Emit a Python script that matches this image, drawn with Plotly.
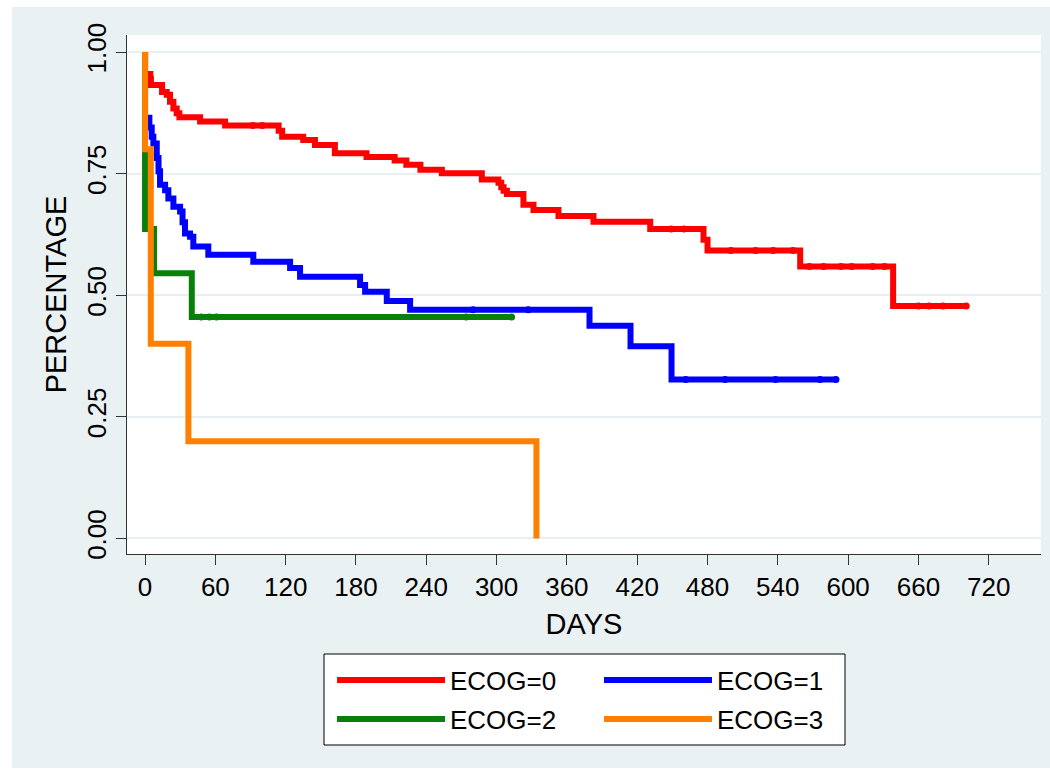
import bisect
import plotly.graph_objects as go

# ---------------- data ----------------
days_ecog0 = [0, 0, 4.5, 5, 14.5, 18.5, 21.3, 24.2, 27, 29.3, 47, 68.3, 114, 117,
              135, 145, 162, 189, 213, 223, 235, 253.3, 287.4, 301.6, 304, 306, 308.8,
              322.9, 331.5, 352.8, 382.7, 431.1, 476.6, 480, 559.1, 638.4, 700.8]
surv_ecog0 = [1.0, 0.955, 0.945, 0.932, 0.918, 0.912, 0.898, 0.884, 0.874, 0.866, 0.857,
              0.849, 0.838, 0.826, 0.819, 0.809, 0.792, 0.784, 0.777, 0.768, 0.758, 0.751,
              0.738, 0.731, 0.722, 0.715, 0.708, 0.686, 0.675, 0.663, 0.651, 0.636, 0.614,
              0.592, 0.559, 0.478, 0.478]
cens_ecog0 = [92, 100, 449, 460, 500, 521, 536, 553, 567, 579, 594, 603, 621, 631,
              660, 669, 681, 700.8]

days_ecog1 = [0, 0, 3.7, 5.7, 7.1, 10, 11.5, 12.8, 17.1, 19.9, 24.2, 29.9, 32, 34.1,
              38.4, 41.2, 54, 92.4, 123.8, 132.3, 183.5, 187.8, 206.3, 226.2, 379.3,
              414.3, 449.3, 589.6]
surv_ecog1 = [1.0, 0.865, 0.845, 0.826, 0.812, 0.782, 0.755, 0.727, 0.716, 0.699, 0.682,
              0.672, 0.65, 0.627, 0.62, 0.60, 0.583, 0.569, 0.556, 0.538, 0.521, 0.507,
              0.488, 0.47, 0.437, 0.395, 0.327, 0.327]
cens_ecog1 = [280, 327, 461.5, 495, 538, 576, 589.6]

days_ecog2 = [0, 0, 7.7, 39.9, 312.8]
surv_ecog2 = [1.0, 0.636, 0.545, 0.455, 0.455]
cens_ecog2 = [48, 55, 61, 274, 312.8]

days_ecog3 = [0, 0, 4.9, 37, 334]
surv_ecog3 = [1.0, 0.8, 0.4, 0.2, 0.0]
cens_ecog3 = []

group_names = ["ECOG=0", "ECOG=1", "ECOG=2", "ECOG=3"]
group_colors = ["#FF0000", "#0000FF", "#0A800A", "#FF8000"]

x_ticks = list(range(0, 721, 60))
y_ticks = [0, 0.25, 0.5, 0.75, 1.0]
y_tick_labels = ["0.00", "0.25", "0.50", "0.75", "1.00"]


def surv_at(days, surv, t):
    i = bisect.bisect_right(days, t) - 1
    return surv[max(i, 0)]


FONT = "Liberation Sans, Arial, sans-serif"

W, H = 1050, 771
ML, MR, MT, MB = 127, 9, 35, 217
PW, PH = W - ML - MR, H - MT - MB


def px_x(px):
    return (px - ML) / PW


def px_y(py):
    return (H - MB - py) / PH


fig = go.Figure()

series = [
    (days_ecog0, surv_ecog0, cens_ecog0),
    (days_ecog1, surv_ecog1, cens_ecog1),
    (days_ecog2, surv_ecog2, cens_ecog2),
    (days_ecog3, surv_ecog3, cens_ecog3),
]
legend_ids = ["legend", "legend2", "legend3", "legend4"]

for (d, s, c), name, col, lg in zip(series, group_names, group_colors, legend_ids):
    fig.add_trace(go.Scatter(
        x=d, y=s, mode="lines", name=name, legend=lg,
        line=dict(color=col, width=6, shape="hv"),
        hoverinfo="skip",
    ))
    if c:
        fig.add_trace(go.Scatter(
            x=c, y=[surv_at(d, s, t) for t in c], mode="markers",
            marker=dict(color=col, size=7), showlegend=False, hoverinfo="skip",
        ))

# legend positions (px) : legend left x, row centre y
leg_pos = [(332, 680), (599, 680), (332, 719), (599, 719)]
legend_layout = {}
for lg, (lx, ly) in zip(legend_ids, leg_pos):
    legend_layout[lg] = dict(
        x=px_x(lx), y=px_y(ly), xanchor="left", yanchor="middle",
        orientation="h", itemwidth=108, bgcolor="rgba(0,0,0,0)", borderwidth=0,
        font=dict(family=FONT, size=26, color="black"),
    )

shapes = [
    # white strips around the grey panel
    dict(type="rect", xref="paper", yref="paper", x0=px_x(0), x1=px_x(W), y0=px_y(7), y1=px_y(0),
         fillcolor="white", line=dict(width=0), layer="below"),
    dict(type="rect", xref="paper", yref="paper", x0=px_x(0), x1=px_x(12), y0=px_y(H), y1=px_y(0),
         fillcolor="white", line=dict(width=0), layer="below"),
    dict(type="rect", xref="paper", yref="paper", x0=px_x(0), x1=px_x(W), y0=px_y(H), y1=px_y(768),
         fillcolor="white", line=dict(width=0), layer="below"),
    # legend box
    dict(type="rect", xref="paper", yref="paper", x0=px_x(324), x1=px_x(845), y0=px_y(745), y1=px_y(654),
         fillcolor="white", line=dict(color="black", width=1), layer="above"),
]

fig.update_layout(
    width=W, height=H,
    margin=dict(l=ML, r=MR, t=MT, b=MB, autoexpand=False),
    paper_bgcolor="#EAF1F3", plot_bgcolor="white",
    font=dict(family=FONT, color="black"),
    shapes=shapes,
    xaxis=dict(
        range=[-15.4, 764.6], tickvals=x_ticks, ticks="outside", ticklen=10, tickwidth=1,
        tickcolor="#333", showline=True, linecolor="#333", linewidth=1, showgrid=False,
        zeroline=False, tickfont=dict(size=26, family=FONT),
        title=dict(text="DAYS", font=dict(size=29, family=FONT), standoff=12),
    ),
    yaxis=dict(
        range=[-0.032, 1.035], tickvals=y_ticks, ticktext=y_tick_labels, tickangle=-90,
        ticks="outside", ticklen=10, tickwidth=1, tickcolor="#333", showline=True,
        linecolor="#333", linewidth=1, showgrid=True, gridcolor="#E8EFF2", gridwidth=2,
        zeroline=False, tickfont=dict(size=26, family=FONT),
        title=dict(text="PERCENTAGE", font=dict(size=29, family=FONT), standoff=6),
    ),
    **legend_layout,
)

fig.write_html("out.html")
